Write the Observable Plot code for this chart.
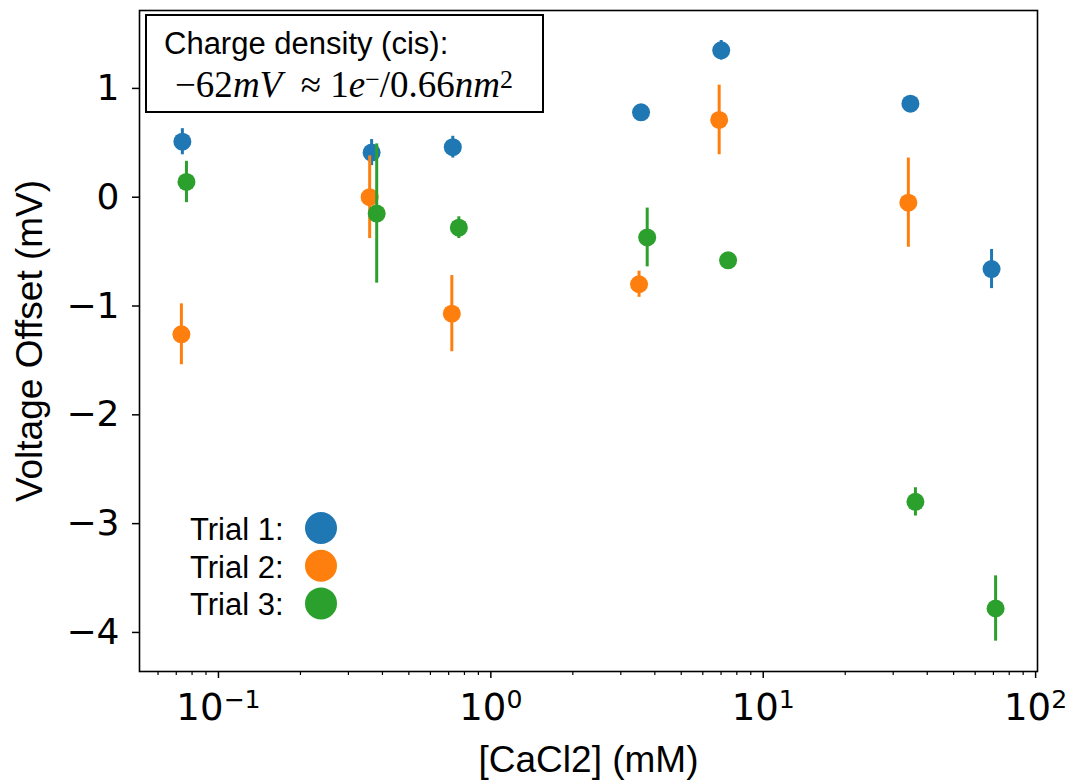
<!DOCTYPE html>
<html><head><meta charset="utf-8">
<script src="https://cdn.jsdelivr.net/npm/d3@7"></script>
<script src="https://cdn.jsdelivr.net/npm/@observablehq/plot@0.6"></script>
<style>
html,body{margin:0;padding:0;background:#fff;}
#chart{position:relative;width:1073px;height:780px;overflow:hidden;}
#chart svg.overlay{position:absolute;left:0;top:0;}
</style></head><body><div id="chart"></div>
<script>
// ---- data ----
const trialNames  = ["Trial 1", "Trial 2", "Trial 3"];
const trialColors = ["#1f77b4", "#ff7f0e", "#2ca02c"];

// Trial 1
const conc1   = [0.0737, 0.365, 0.725, 3.56, 7.01, 34.7, 68.9];
const offset1 = [0.51, 0.41, 0.46, 0.78, 1.35, 0.86, -0.66];
const err1    = [0.12, 0.12, 0.10, 0.04, 0.09, 0.03, 0.18];
// Trial 2
const conc2   = [0.0731, 0.359, 0.719, 3.50, 6.89, 34.1];
const offset2 = [-1.26, 0.00, -1.07, -0.80, 0.71, -0.05];
const err2    = [0.28, 0.38, 0.35, 0.12, 0.32, 0.41];
// Trial 3
const conc3   = [0.0763, 0.381, 0.763, 3.75, 7.43, 36.2, 71.3];
const offset3 = [0.14, -0.15, -0.28, -0.37, -0.58, -2.80, -3.78];
const err3    = [0.19, 0.64, 0.10, 0.27, 0.02, 0.13, 0.30];

const yTicks      = [-4, -3, -2, -1, 0, 1];
const xMajorTicks = [0.1, 1, 10, 100];
const xMinorTicks = [0.06, 0.07, 0.08, 0.09, 0.2, 0.3, 0.4, 0.5, 0.6, 0.7, 0.8, 0.9,
                     2, 3, 4, 5, 6, 7, 8, 9, 20, 30, 40, 50, 60, 70, 80, 90];
const xLabel = "[CaCl2] (mM)";
const yLabel = "Voltage Offset (mV)";
const noteTitle = "Charge density (cis):";

// ---- build tables ----
const series = [
  {name: trialNames[0], color: trialColors[0], x: conc1, y: offset1, e: err1},
  {name: trialNames[1], color: trialColors[1], x: conc2, y: offset2, e: err2},
  {name: trialNames[2], color: trialColors[2], x: conc3, y: offset3, e: err3}
];
const tables = series.map(s => s.x.map((x, i) => ({x, y: s.y[i], lo: s.y[i] - s.e[i], hi: s.y[i] + s.e[i]})));

const dataMarks = series.flatMap((s, k) => [
  Plot.ruleX(tables[k], {x: "x", y1: "lo", y2: "hi", stroke: s.color, strokeWidth: 3}),
  Plot.dot(tables[k], {x: "x", y: "y", r: 9, fill: s.color, stroke: "none"})
]);

const supFmt = d => "10^" + String(Math.round(Math.log10(d))).replace("-", "\u2212");
const intFmt = d => String(d).replace("-", "\u2212");

const plot = Plot.plot({
  width: 1073, height: 780,
  marginLeft: 139, marginRight: 36, marginTop: 10, marginBottom: 109,
  x: {type: "log", domain: [0.0513, 101.6]},
  y: {domain: [-4.359, 1.716]},
  style: {fontFamily: "DejaVu Sans", fontSize: "37px", color: "black", background: "white", overflow: "visible"},
  marks: [
    ...dataMarks,
    Plot.axisY(yTicks, {tickSize: 7, tickPadding: 13, strokeWidth: 1.5, fontSize: 36, tickFormat: intFmt,
      label: yLabel, labelAnchor: "center", labelOffset: 124, labelArrow: "none"}),
    Plot.axisX(xMinorTicks, {tickSize: 4, strokeWidth: 1.2, tickFormat: () => "", label: null}),
    Plot.axisX(xMajorTicks, {tickSize: 7, tickPadding: 15, strokeWidth: 1.5, fontSize: 37,
      tickFormat: supFmt, label: xLabel, labelAnchor: "center", labelOffset: 100, labelArrow: "none"}),
    Plot.frame({stroke: "black", strokeWidth: 1.6})
  ]
});

const chart = document.getElementById("chart");
chart.appendChild(plot);
const root = d3.select(plot);

// superscript exponents on the x tick labels
root.selectAll('g[aria-label="x-axis tick label"] text').each(function() {
  const s = this.textContent;
  if (!s.includes("^")) return;
  const [base, exp] = s.split("^");
  const t = d3.select(this);
  t.text(null);
  t.append("tspan").text(base);
  t.append("tspan").attr("dy", "-0.45em").attr("font-size", "0.68em").text(exp);
});
root.selectAll('g[aria-label="x-axis label"], g[aria-label="y-axis label"]')
  .attr("font-family", "Liberation Sans, Arial, sans-serif").attr("font-size", 37);

// ---- annotation box + legend overlay ----
const ov = d3.select(chart).append("svg").attr("class", "overlay")
  .attr("width", 1073).attr("height", 780);

ov.append("rect").attr("x", 146).attr("y", 15).attr("width", 397).attr("height", 97)
  .attr("fill", "white").attr("stroke", "black").attr("stroke-width", 2);
ov.append("text").attr("x", 164).attr("y", 54)
  .attr("font-family", "Liberation Sans, Arial, sans-serif").attr("font-size", 31)
  .text(noteTitle);
const m = ov.append("text").attr("x", 175).attr("y", 97)
  .attr("font-family", "Liberation Serif, serif").attr("font-size", 37);
m.append("tspan").text("\u221262");
m.append("tspan").attr("font-style", "italic").text("mV");
m.append("tspan").text("\u2002\u2248 1");
m.append("tspan").attr("font-style", "italic").text("e");
m.append("tspan").attr("dy", "-0.35em").attr("font-size", "0.7em").text("\u2212");
m.append("tspan").attr("dy", "0.245em").text("/0.66");
m.append("tspan").attr("font-style", "italic").text("nm");
m.append("tspan").attr("dy", "-0.35em").attr("font-size", "0.7em").text("2");

const lg = ov.append("g").attr("font-family", "Liberation Sans, Arial, sans-serif").attr("font-size", 31);
series.forEach((s, i) => {
  lg.append("text").attr("x", 190).attr("y", 540 + i * 37.5).text(s.name + ":");
  lg.append("circle").attr("cx", 321).attr("cy", 528 + i * 37.7).attr("r", 16).attr("fill", s.color);
});
</script>
</body></html>
